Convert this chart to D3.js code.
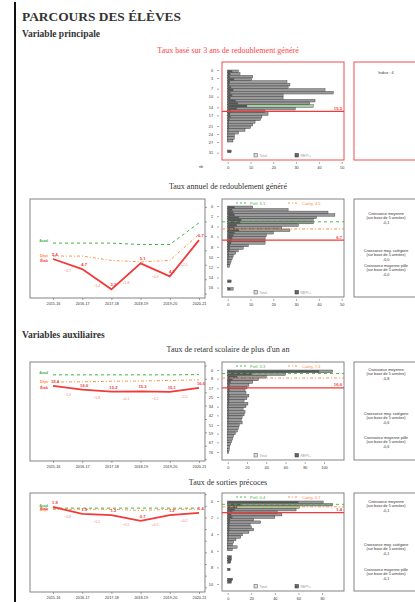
<!DOCTYPE html>
<html>
<head>
<meta charset="utf-8">
<script src="https://cdn.jsdelivr.net/npm/d3@7"></script>
<style>
  body { margin: 0; background: #fff; }
  svg { display: block; }
</style>
</head>
<body>
<div id="page"></div>
<script>
// ---- data ----
const years = ['2015-16', '2016-17', '2017-18', '2018-19', '2019-20', '2020-21'];

// Taux basé sur 3 ans de redoublement généré
const h1Bins = [0, 1, 2, 3, 4, 5, 6, 7, 8, 9, 10, 11, 12, 13, 14, 15, 16, 17, 18, 19, 20, 21, 22, 23, 24, 25, 26, 27, 28, 29, 30];
const h1Total = [4.7, 5.4, 11, 10.5, 26, 27.3, 26.5, 42.7, 46.3, 24.3, 24.3, 38.3, 36, 37.5, 29.6, 16.3, 17.7, 15, 14.3, 12, 11, 10, 7.6, 4.7, 2.9, 2.9, 2.3, 0, 0, 0, 1.5];
const h1Rep = [2, 1.2, 1, 2.8, 1, 0.8, 1.5, 2.5, 1.2, 2, 1.2, 3.5, 4.5, 8.5, 4, 1.5, 1, 1.2, 0.8, 0.5, 0.5, 0.6, 0.4, 0.3, 0.3, 0.2, 0.2, 0, 0, 0, 1.5];
const h1Ticks = [0, 3, 7, 10, 14, 17, 21, 24, 27, 31];
const h1Etab = 15.5;
const h1Indice = 'Indice : 4';

// Taux annuel de redoublement généré
const redoEtab = [5.4, 4.7, 3.3, 5.1, 4.2, 6.7];
const redoDep = [5.6, 5.6, 5.3, 5.2, 5.3, 7.1];
const redoAcad = [6.5, 6.5, 6.5, 6.4, 6.4, 7.9];
const h2Bins = [0, 0.5, 1, 1.5, 2, 2.5, 3, 3.5, 4, 4.5, 5, 5.5, 6, 6.5, 7, 7.5, 8, 8.5, 9, 9.5, 10, 10.5, 11, 11.5, 12, 12.5, 13, 13.5, 14, 14.5, 15, 15.5, 16];
const h2Total = [11, 26.5, 44, 47, 39, 37.5, 37.5, 31, 23.7, 27.3, 20, 17, 16.4, 16.4, 16.4, 9, 6.8, 4.6, 3.5, 2.4, 2, 1.5, 1.2, 0.8, 0, 0, 0, 0, 0, 1.5, 0, 0, 2.4];
const h2Rep = [3, 2, 2.5, 3, 5, 6, 5.5, 4, 3, 5, 3, 2.5, 2, 2, 1.5, 1, 1, 0.8, 0.5, 0.5, 0.4, 0.3, 0.3, 0.2, 0, 0, 0, 0, 0, 1.5, 0, 0, 1.2];
const h2Ticks = [0, 2, 4, 6, 8, 10, 12, 14, 16];
const h2Pref = 3.1, h2Categ = 4.5;
const redoCroissance = ['-0,1', '-0,0', '-0,0'];

// Taux de retard scolaire de plus d'un an
const retardEtab = [17.4, 16.0, 15.2, 15.3, 15.1, 16.6];
const retardDep = [18.8, 18.9, 19.1, 19.2, 19.4, 19.6];
const retardAcad = [21.5, 21.5, 21.5, 21.5, 21.5, 21.6];
const h3Bins = [0, 2.5, 5, 7.5, 10, 12.5, 15, 17.5, 20, 22.5, 25, 27.5, 30, 32.5, 35, 37.5, 40, 42.5, 45, 47.5, 50, 52.5, 55, 57.5, 60, 62.5, 65, 67.5, 70, 72.5, 75];
const h3Total = [109, 60, 40, 32, 26, 22, 20, 18, 19, 22, 20, 17, 21, 19, 16, 18, 17, 15, 14, 15, 12, 11, 10, 8, 6, 5, 4, 3, 2, 1.5, 1];
const h3Rep = [95, 25, 10, 5, 3, 2, 2, 2, 1.5, 2, 1.5, 1.5, 1.5, 1, 1, 1, 1, 1, 0.8, 0.8, 0.6, 0.6, 0.5, 0.4, 0.3, 0.3, 0.2, 0.2, 0.1, 0.1, 0.1];
const h3Ticks = [0, 8, 17, 25, 34, 42, 51, 59, 67, 76];
const h3Pref = 3.3, h3Categ = 7.4;
const retardCroissance = ['-0,8', '-0,6', '-0,6'];

// Taux de sorties précoces
const sortiesEtab = [1.9, 1.3, 1.2, 0.7, 1.2, 1.4];
const sortiesDep = [1.7, 1.7, 1.7, 1.6, 1.7, 1.7];
const sortiesAcad = [1.8, 1.8, 1.8, 1.8, 1.8, 1.8];
const h4Bins = [0, 0.3, 0.6, 0.9, 1.2, 1.5, 1.8, 2.1, 2.4, 2.7, 3, 3.3, 3.6, 3.9, 4.2, 4.5, 4.8, 5.1, 5.4, 5.7, 6, 6.3, 6.6, 6.9, 7.2, 7.5, 7.8, 8.1, 8.4, 8.7, 9, 9.3, 9.6, 9.9];
const h4Total = [81, 89, 61, 58, 42, 46, 40, 22, 28, 19, 20, 22, 18, 12.6, 11, 7, 5, 4, 8, 4, 0, 0, 3, 3, 2.5, 0, 0, 2, 0, 0, 0, 4, 3, 0];
const h4Rep = [60, 12, 8, 6, 4, 3, 4, 2, 2, 1.5, 1.5, 1.5, 1, 1, 0.8, 0.6, 0.5, 0.5, 0.5, 0.4, 0, 0, 3, 3, 2.5, 0, 0, 2, 0, 0, 0, 4, 3, 0];
const h4Ticks = [0, 2, 4, 6, 8, 10];
const h4Pref = 0.4, h4Categ = 0.7;
const sortiesCroissance = ['-0,1', '-0,1', '-0,1'];

// ---- drawing ----
const W = 415, H = 602;
const serif = '"Liberation Serif", "DejaVu Serif", serif';
const RED = '#f23a3a', GREEN = '#3fb43f', ORANGE = '#ff8a3d';
const fmt = d3.format('.1f');
const fmtDelta = d3.format('+.1f');

const svg = d3.select('#page').append('svg')
  .attr('width', W).attr('height', H)
  .style('font-family', '"Liberation Sans", Arial, sans-serif');

svg.append('line')
  .attr('x1', 15).attr('x2', 15).attr('y1', 2).attr('y2', H)
  .attr('stroke', '#111').attr('stroke-width', 2);

function heading(text, y, size) {
  svg.append('text').attr('x', 22).attr('y', y).text(text)
    .attr('font-family', serif).attr('font-weight', 'bold')
    .attr('font-size', size).attr('fill', '#333');
}
function chartTitle(text, y, color) {
  svg.append('text').attr('x', 228).attr('y', y).text(text)
    .attr('text-anchor', 'middle').attr('font-family', serif)
    .attr('font-size', 8).attr('fill', color || '#333');
}

heading('PARCOURS DES ÉLÈVES', 21, 13.4);
heading('Variable principale', 37, 9.5);
heading('Variables auxiliaires', 338, 9.5);

chartTitle('Taux basé sur 3 ans de redoublement généré', 53, '#f44');
chartTitle('Taux annuel de redoublement généré', 189);
chartTitle("Taux de retard scolaire de plus d'un an", 352);
chartTitle('Taux de sorties précoces', 485);

function styleAxis(g) {
  g.select('.domain').remove();
  g.selectAll('line').attr('stroke', '#555').attr('stroke-width', 0.5);
  g.selectAll('text').attr('font-size', 3.8).attr('fill', '#333');
}

function lineChart(top, etab, dep, acad, domain) {
  const left = 30, right = 205, bottom = top + 99;
  const x = d3.scalePoint().domain(years).range([53, 199]);
  const y = d3.scaleLinear().domain(domain).range([bottom, top]);
  const g = svg.append('g');

  g.append('rect').attr('x', left).attr('y', top)
    .attr('width', right - left).attr('height', bottom - top)
    .attr('fill', 'none').attr('stroke', '#777').attr('stroke-width', 0.9);

  g.append('g').attr('transform', `translate(0,${bottom})`)
    .call(d3.axisBottom(x).tickSize(2).tickPadding(2)).call(styleAxis);
  g.append('g').attr('transform', `translate(${right},0)`)
    .call(d3.axisRight(y).ticks(8).tickSize(2).tickFormat('')).call(styleAxis);

  const line = d3.line().x((d, i) => x(years[i])).y(d => y(d));
  g.append('path').datum(acad).attr('d', line).attr('fill', 'none')
    .attr('stroke', GREEN).attr('stroke-width', 1).attr('stroke-dasharray', '3,3');
  g.append('path').datum(dep).attr('d', line).attr('fill', 'none')
    .attr('stroke', ORANGE).attr('stroke-width', 0.9).attr('stroke-dasharray', '3,2,1,2');
  g.append('path').datum(etab).attr('d', line).attr('fill', 'none')
    .attr('stroke', RED).attr('stroke-width', 1.8);

  // series names at the left
  [['Acad', acad, GREEN, -2], ['Dépt', dep, ORANGE, 0], ['Étab', etab, RED, 2]].forEach(([name, s, c, dy]) => {
    g.append('text').attr('x', 48).attr('y', y(s[0]) + 1.3 + dy).text(name)
      .attr('text-anchor', 'end').attr('font-size', 3.6).attr('fill', c).attr('font-weight', 'bold');
  });

  // values above the points
  g.selectAll('.val').data(etab).enter().append('text')
    .attr('x', (d, i) => x(years[i]) + 2).attr('y', d => y(d) - 3)
    .attr('text-anchor', 'middle').attr('font-size', 4.2).attr('font-weight', 'bold')
    .attr('fill', RED).text(d => fmt(d));

  // yearly changes between the points
  const deltas = etab.slice(1).map((d, i) => ({ i, v: d - etab[i], y: (d + etab[i]) / 2 }));
  g.selectAll('.delta').data(deltas).enter().append('text')
    .attr('x', d => (x(years[d.i]) + x(years[d.i + 1])) / 2)
    .attr('y', d => y(d.y) + 8)
    .attr('text-anchor', 'middle').attr('font-size', 3.4)
    .attr('fill', '#f57a7a').text(d => fmtDelta(d.v));
}

function histogram(cfg) {
  const left = 222, right = 344, top = cfg.top, bottom = cfg.top + 98;
  const x = d3.scaleLinear().domain(cfg.xDomain).range([227.7, cfg.xRight]);
  const y = d3.scaleLinear().domain(cfg.yDomain).range(cfg.yRange);
  const g = svg.append('g');

  g.append('rect').attr('x', left).attr('y', top)
    .attr('width', right - left).attr('height', bottom - top)
    .attr('fill', 'none').attr('stroke', cfg.frame).attr('stroke-width', 0.9);

  g.append('g').attr('transform', `translate(${left - 3},0)`)
    .call(d3.axisLeft(y).tickValues(cfg.yTicks).tickSize(2).tickPadding(4)).call(styleAxis);
  g.append('g').attr('transform', `translate(0,${bottom + 2})`)
    .call(d3.axisBottom(x).tickValues(cfg.xTicks).tickSize(2).tickPadding(2)).call(styleAxis);

  const bw = cfg.binW;
  g.selectAll('.tot').data(cfg.total).enter().append('rect')
    .attr('x', x(0)).attr('y', (d, i) => y(cfg.bins[i]))
    .attr('width', d => x(d) - x(0))
    .attr('height', (d, i) => y(cfg.bins[i] + bw) - y(cfg.bins[i]))
    .attr('fill', (d, i) => i === cfg.highlight ? '#a3cfa3' : '#9a9a9a')
    .attr('stroke', '#333').attr('stroke-width', 0.4);
  g.selectAll('.rep').data(cfg.rep).enter().append('rect')
    .attr('x', x(0)).attr('y', (d, i) => y(cfg.bins[i]) + 0.3)
    .attr('width', d => x(d) - x(0))
    .attr('height', (d, i) => Math.max(0, y(cfg.bins[i] + bw) - y(cfg.bins[i]) - 0.6))
    .attr('fill', '#555');

  // reference lines
  if (cfg.pref != null) {
    g.append('line').attr('x1', left).attr('x2', right).attr('y1', y(cfg.pref)).attr('y2', y(cfg.pref))
      .attr('stroke', GREEN).attr('stroke-width', 0.9).attr('stroke-dasharray', '3,3');
    g.append('line').attr('x1', left).attr('x2', right).attr('y1', y(cfg.categ)).attr('y2', y(cfg.categ))
      .attr('stroke', ORANGE).attr('stroke-width', 0.9).attr('stroke-dasharray', '3,2,1,2');
    g.append('line').attr('x1', 236).attr('x2', 247).attr('y1', top + 4).attr('y2', top + 4)
      .attr('stroke', GREEN).attr('stroke-width', 0.9).attr('stroke-dasharray', '2,2');
    g.append('text').attr('x', 250).attr('y', top + 5.5).text('Préf. ' + fmt(cfg.pref))
      .attr('font-size', 4).attr('fill', GREEN);
    g.append('line').attr('x1', 288).attr('x2', 299).attr('y1', top + 4).attr('y2', top + 4)
      .attr('stroke', ORANGE).attr('stroke-width', 0.9).attr('stroke-dasharray', '2,2,1,2');
    g.append('text').attr('x', 302).attr('y', top + 5.5).text('Catég. ' + fmt(cfg.categ))
      .attr('font-size', 4).attr('fill', ORANGE);
  }
  g.append('line').attr('x1', left).attr('x2', right).attr('y1', y(cfg.etab)).attr('y2', y(cfg.etab))
    .attr('stroke', RED).attr('stroke-width', 1.1);
  g.append('text').attr('x', right - 2).attr('y', y(cfg.etab) - 1.5).text(fmt(cfg.etab))
    .attr('text-anchor', 'end').attr('font-size', 4.2).attr('font-weight', 'bold').attr('fill', RED);

  // legend
  g.append('rect').attr('x', 254).attr('y', bottom - 6.5).attr('width', 3.5).attr('height', 3.5)
    .attr('fill', '#ddd').attr('stroke', '#555').attr('stroke-width', 0.5);
  g.append('text').attr('x', 259.5).attr('y', bottom - 3.3).text('Total').attr('font-size', 3.6).attr('fill', '#999');
  g.append('rect').attr('x', 295).attr('y', bottom - 6.5).attr('width', 3.5).attr('height', 3.5)
    .attr('fill', '#666').attr('stroke', '#333').attr('stroke-width', 0.5);
  g.append('text').attr('x', 300.5).attr('y', bottom - 3.3).text('REP/+').attr('font-size', 3.6).attr('fill', '#999');

  if (cfg.label) {
    g.append('text').attr('x', 199).attr('y', bottom + 8).text(cfg.label).attr('font-size', 3.6).attr('fill', '#333');
  }
}

function infoBox(top, frame, groups) {
  const g = svg.append('g');
  g.append('rect').attr('x', 354).attr('y', top).attr('width', 80).attr('height', 98)
    .attr('fill', 'none').attr('stroke', frame).attr('stroke-width', 0.9);
  groups.forEach(grp => {
    grp.lines.forEach((t, i) => {
      g.append('text').attr('x', 386).attr('y', grp.y + i * 4.4).text(t)
        .attr('text-anchor', 'middle').attr('font-size', 3.8).attr('fill', '#333');
    });
  });
}

function croissanceGroups(top, vals, offsets) {
  const names = ['Croissance moyenne', 'Croissance moy. catégorie', 'Croissance moyenne pôle'];
  return names.map((n, i) => ({ y: top + offsets[i], lines: [n, '(sur base de 5 années)', vals[i]] }));
}

// Variable principale
histogram({
  top: 62, frame: RED, bins: h1Bins, binW: 1, total: h1Total, rep: h1Rep,
  xDomain: [0, 50], xRight: 341.7, xTicks: [0, 10, 20, 30, 40, 50],
  yDomain: [0, 31], yRange: [70, 152.7], yTicks: h1Ticks,
  etab: h1Etab, highlight: 13, label: 'nb'
});
infoBox(62, RED, [{ y: 74, lines: [h1Indice] }]);

lineChart(199, redoEtab, redoDep, redoAcad, [2.7, 9.55]);
histogram({
  top: 199, frame: '#777', bins: h2Bins, binW: 0.5, total: h2Total, rep: h2Rep,
  xDomain: [0, 50], xRight: 341.7, xTicks: [0, 10, 20, 30, 40, 50],
  yDomain: [0, 16], yRange: [206, 287.6], yTicks: h2Ticks,
  etab: redoEtab[5], pref: h2Pref, categ: h2Categ
});
infoBox(199, '#777', croissanceGroups(199, redoCroissance, [16, 53, 68]));

// Variables auxiliaires
lineChart(362, retardEtab, retardDep, retardAcad, [-10.7, 26.3]);
histogram({
  top: 362, frame: '#777', bins: h3Bins, binW: 2.5, total: h3Total, rep: h3Rep,
  xDomain: [0, 100], xRight: 324, xTicks: [0, 20, 40, 60, 80, 100],
  yDomain: [0, 76], yRange: [370, 452], yTicks: h3Ticks,
  etab: retardEtab[5], pref: h3Pref, categ: h3Categ
});
infoBox(362, '#777', croissanceGroups(362, retardCroissance, [9, 53, 77]));

lineChart(493, sortiesEtab, sortiesDep, sortiesAcad, [-5.4, 3.1]);
histogram({
  top: 493, frame: '#777', bins: h4Bins, binW: 0.3, total: h4Total, rep: h4Rep,
  xDomain: [0, 80], xRight: 322, xTicks: [0, 20, 40, 60, 80],
  yDomain: [0, 10], yRange: [501, 584], yTicks: h4Ticks,
  etab: sortiesEtab[5], pref: h4Pref, categ: h4Categ, highlight: 2
});
infoBox(493, '#777', croissanceGroups(493, sortiesCroissance, [10, 53, 78]));
</script>
</body>
</html>
